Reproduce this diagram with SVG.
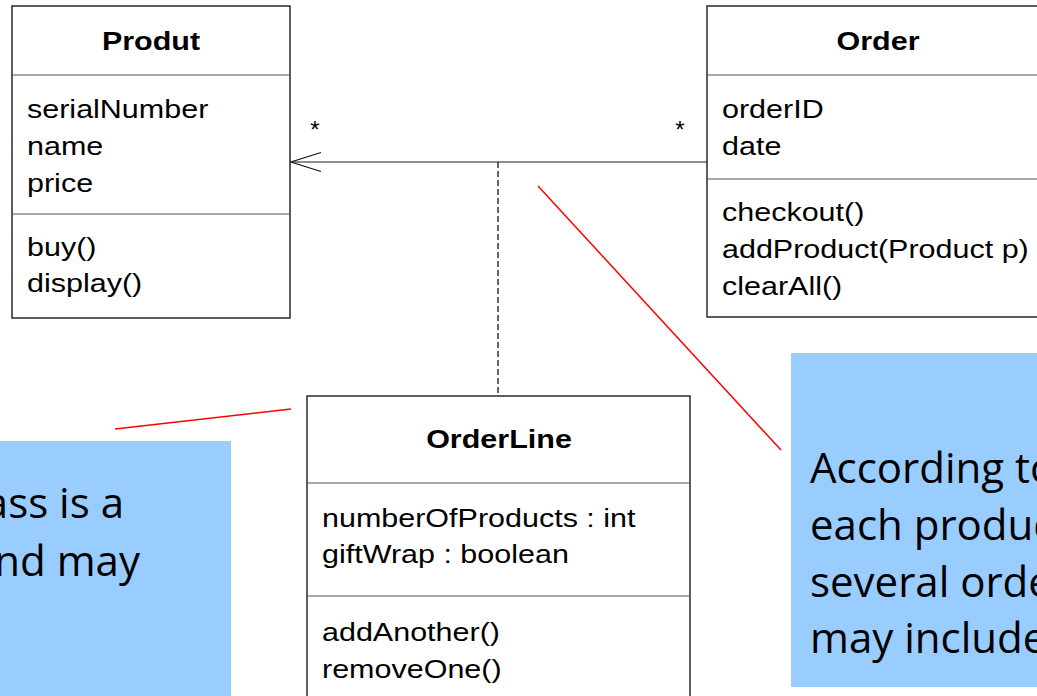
<svg xmlns="http://www.w3.org/2000/svg" width="1037" height="696" viewBox="0 0 1037 696">
  <style>
    .box { fill: #ffffff; stroke: #1a1a1a; stroke-width: 1.4; }
    .sep { stroke: #555555; stroke-width: 1.2; }
    .uml { font-family: "Liberation Sans", Arial, sans-serif; font-size: 25px; fill: #000000; }
    .title { font-weight: bold; text-anchor: middle; }
    .note { fill: #99ccff; }
    .notetext { font-family: "Open Sans", "Noto Sans", sans-serif; font-size: 42px; fill: #000000; }
    .assoc { stroke: #666666; stroke-width: 1.6; fill: none; }
    .dash { stroke: #000000; stroke-width: 1.2; stroke-dasharray: 6 3; fill: none; }
    .callout { stroke: #ff0000; stroke-width: 1.5; fill: none; }
    .mult { font-family: "Liberation Sans", Arial, sans-serif; font-size: 24px; text-anchor: middle; fill: #000000; }
  </style>
  <defs>
    <!-- open navigability arrowhead; tip sits on the line end -->
    <marker id="openArrow" markerUnits="userSpaceOnUse" markerWidth="40" markerHeight="30" refX="31" refY="12" orient="auto">
      <path d="M1,2.5 L31,12 L1,21.5" fill="none" stroke="#1a1a1a" stroke-width="1.3"/>
    </marker>
  </defs>

  <rect width="1037" height="696" fill="#ffffff"/>

  <!-- notes (drawn first so callout lines sit on top) -->
  <g id="note-left">
    <rect class="note" x="0" y="441" width="231" height="270"/>
    <text class="notetext" x="124" y="518" text-anchor="end">ass is a</text>
    <text class="notetext" x="140" y="576" text-anchor="end">nd may</text>
  </g>
  <g id="note-right">
    <rect class="note" x="791" y="353" width="260" height="334"/>
    <text class="notetext" x="810" y="483">According to</text>
    <text class="notetext" x="810" y="540">each product</text>
    <text class="notetext" x="810" y="597">several orders</text>
    <text class="notetext" x="810" y="653">may include</text>
  </g>

  <!-- connectors -->
  <g id="connectors">
    <line class="assoc" x1="707" y1="162" x2="291" y2="162" marker-end="url(#openArrow)"/>
    <line class="dash" x1="498" y1="162" x2="498" y2="396"/>
    <line class="callout" x1="115" y1="429" x2="291" y2="409"/>
    <line class="callout" x1="538" y1="186" x2="781" y2="450"/>
    <text class="mult" x="315" y="138">*</text>
    <text class="mult" x="680" y="138">*</text>
  </g>

  <!-- class Produt -->
  <g id="class-produt">
    <rect class="box" x="12" y="6" width="278" height="312"/>
    <line class="sep" x1="12" y1="75" x2="290" y2="75"/>
    <line class="sep" x1="12" y1="214" x2="290" y2="214"/>
    <text class="uml title" transform="translate(151 50) scale(1.22 1)">Produt</text>
    <text class="uml" transform="translate(27 118) scale(1.22 1)">serialNumber</text>
    <text class="uml" transform="translate(27 155) scale(1.22 1)">name</text>
    <text class="uml" transform="translate(27 192) scale(1.22 1)">price</text>
    <text class="uml" transform="translate(27 256) scale(1.22 1)">buy()</text>
    <text class="uml" transform="translate(27 292) scale(1.22 1)">display()</text>
  </g>

  <!-- class Order -->
  <g id="class-order">
    <rect class="box" x="707" y="6" width="345" height="311"/>
    <line class="sep" x1="707" y1="75" x2="1052" y2="75"/>
    <line class="sep" x1="707" y1="179" x2="1052" y2="179"/>
    <text class="uml title" transform="translate(878 50) scale(1.22 1)">Order</text>
    <text class="uml" transform="translate(722 118) scale(1.22 1)">orderID</text>
    <text class="uml" transform="translate(722 155) scale(1.22 1)">date</text>
    <text class="uml" transform="translate(722 221) scale(1.22 1)">checkout()</text>
    <text class="uml" transform="translate(722 258) scale(1.22 1)">addProduct(Product p)</text>
    <text class="uml" transform="translate(722 295) scale(1.22 1)">clearAll()</text>
  </g>

  <!-- association class OrderLine -->
  <g id="class-orderline">
    <rect class="box" x="307" y="396" width="383" height="320"/>
    <line class="sep" x1="307" y1="483" x2="690" y2="483"/>
    <line class="sep" x1="307" y1="596" x2="690" y2="596"/>
    <text class="uml title" transform="translate(499 448) scale(1.22 1)">OrderLine</text>
    <text class="uml" transform="translate(322 527) scale(1.22 1)">numberOfProducts : int</text>
    <text class="uml" transform="translate(322 563) scale(1.22 1)">giftWrap : boolean</text>
    <text class="uml" transform="translate(322 641) scale(1.22 1)">addAnother()</text>
    <text class="uml" transform="translate(322 678) scale(1.22 1)">removeOne()</text>
  </g>
</svg>
